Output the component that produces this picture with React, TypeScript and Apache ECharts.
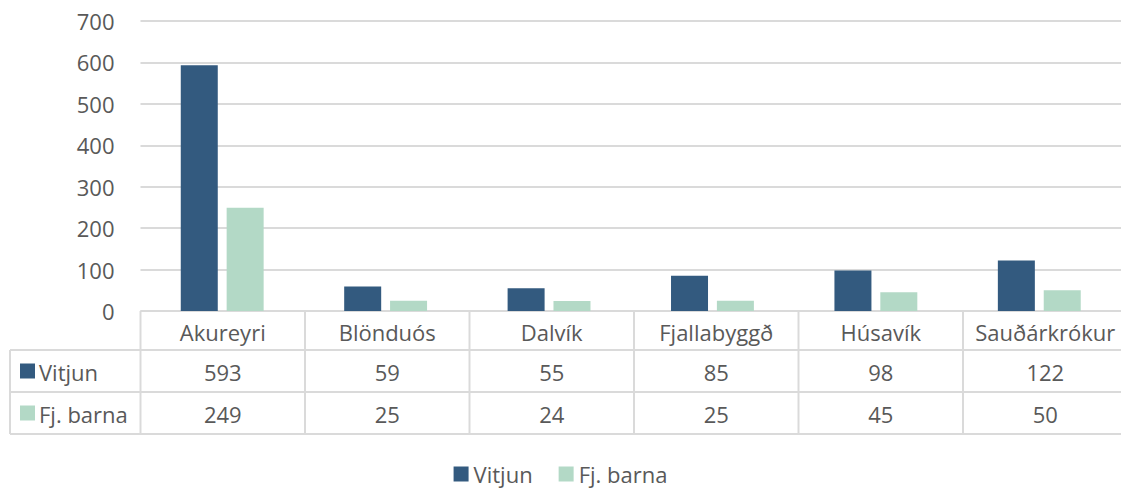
import React, { useEffect, useRef } from "react";
import * as echarts from "echarts";

const categories = ["Akureyri", "Blönduós", "Dalvík", "Fjallabyggð", "Húsavík", "Sauðárkrókur"];
const seriesNames = ["Vitjun", "Fj. barna"];
const vitjun = [593, 59, 55, 85, 98, 122];
const fjBarna = [249, 25, 24, 25, 45, 50];
const seriesColors = ["#335A7F", "#B3D9C6"];

const W = 1121;
const H = 493;
const GRID_LEFT = 140.5;
const GRID_WIDTH = 987;
const GRID_TOP = 21;
const GRID_BOTTOM_Y = 311;
const ROW_YS = [311, 350, 392, 434];
const TABLE_LEFT = 10;
const FONT = "'Open Sans', 'Noto Sans', sans-serif";
const FS = 22;
const TXT = "#595959";
const LINE = "#DADADA";

export default function App() {
  const ref = useRef<HTMLDivElement>(null);
  useEffect(() => {
    if (!ref.current) return;
    const chart = echarts.init(ref.current, null, { renderer: "svg" });
    const n = categories.length;
    const colW = GRID_WIDTH / n;
    const rows = [vitjun, fjBarna];
    const graphic: any[] = [];
    const ln = (x1: number, y1: number, x2: number, y2: number) =>
      graphic.push({
        type: "line",
        shape: { x1, y1, x2, y2 },
        style: { stroke: LINE, lineWidth: 2 },
        silent: true,
      });
    // horizontal table lines
    ln(GRID_LEFT, ROW_YS[0], W, ROW_YS[0]);
    for (let r = 1; r < ROW_YS.length; r++) ln(TABLE_LEFT, ROW_YS[r], W, ROW_YS[r]);
    // vertical table lines
    ln(TABLE_LEFT, ROW_YS[1], TABLE_LEFT, ROW_YS[3]);
    for (let c = 0; c <= n; c++) {
      const x = GRID_LEFT + c * colW;
      if (x < W) ln(x, ROW_YS[0], x, ROW_YS[3]);
    }
    const txt = (text: string, x: number, y: number, align: string) =>
      graphic.push({
        type: "text",
        x,
        y,
        silent: true,
        style: {
          text,
          fill: TXT,
          fontSize: FS,
          fontFamily: FONT,
          align,
          verticalAlign: "middle",
          textAlign: align,
          textVerticalAlign: "middle",
        },
      });
    categories.forEach((cat, i) => {
      const cx = GRID_LEFT + (i + 0.5) * colW;
      txt(cat, cx, (ROW_YS[0] + ROW_YS[1]) / 2 + 1, "center");
      rows.forEach((vals, r) => {
        txt(String(vals[i]), cx, (ROW_YS[r + 1] + ROW_YS[r + 2]) / 2 + 1, "center");
      });
    });
    seriesNames.forEach((name, r) => {
      const cy = (ROW_YS[r + 1] + ROW_YS[r + 2]) / 2;
      graphic.push({
        type: "rect",
        shape: { x: 20, y: cy - 7.5, width: 15, height: 15 },
        style: { fill: seriesColors[r] },
        silent: true,
      });
      txt(name, 39, cy + 1, "left");
    });

    chart.setOption({
      animation: false,
      backgroundColor: "#ffffff",
      textStyle: { fontFamily: FONT },
      grid: {
        left: GRID_LEFT,
        width: GRID_WIDTH,
        top: GRID_TOP,
        bottom: H - GRID_BOTTOM_Y,
        containLabel: false,
      },
      xAxis: {
        type: "category",
        data: categories,
        axisLine: { show: false },
        axisTick: { show: false },
        axisLabel: { show: false },
      },
      yAxis: {
        type: "value",
        min: 0,
        max: 700,
        interval: 100,
        axisLine: { show: false },
        axisTick: { show: false },
        axisLabel: { color: TXT, fontSize: FS, fontFamily: FONT, margin: 26 },
        splitLine: { lineStyle: { color: LINE, width: 2 } },
      },
      legend: {
        data: seriesNames,
        bottom: 3,
        left: "center",
        itemWidth: 15,
        itemHeight: 15,
        itemGap: 26,
        icon: "rect",
        textStyle: { color: TXT, fontSize: FS, fontFamily: FONT },
      },
      series: [
        {
          name: seriesNames[0],
          type: "bar",
          data: vitjun,
          barWidth: 37,
          barGap: "24%",
          itemStyle: { color: seriesColors[0] },
        },
        {
          name: seriesNames[1],
          type: "bar",
          data: fjBarna,
          barWidth: 37,
          itemStyle: { color: seriesColors[1] },
        },
      ],
      graphic,
    });
    return () => chart.dispose();
  }, []);
  return (
    <div
      ref={ref}
      style={{ position: "absolute", left: 0, top: 0, width: W, height: H, background: "#fff" }}
    />
  );
}
